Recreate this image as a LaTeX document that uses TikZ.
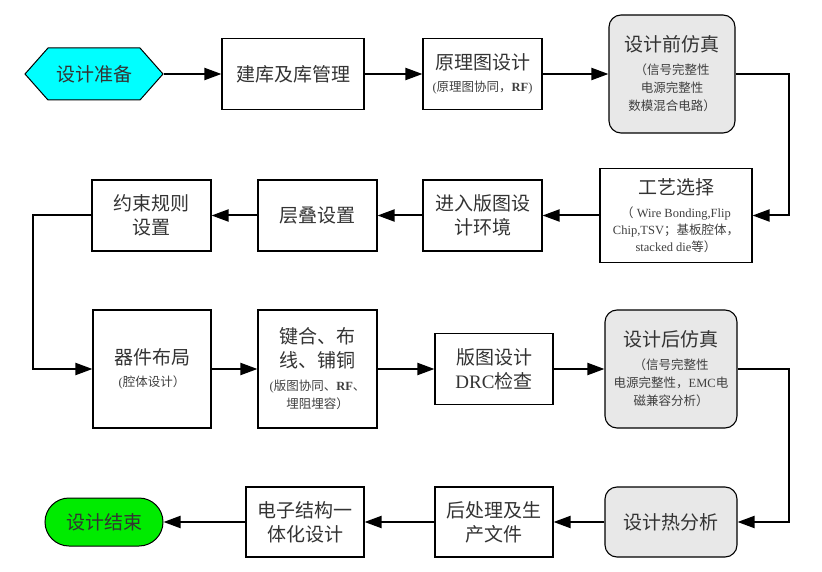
\documentclass[tikz,border=0pt]{standalone}
\usepackage{fontspec}
\setmainfont{Noto Sans CJK SC}
\newfontfamily\lat{Liberation Serif}
\usetikzlibrary{arrows.meta,shapes.misc}
\definecolor{cyanfill}{RGB}{0,255,255}
\definecolor{greenfill}{RGB}{0,235,0}
\definecolor{grayfill}{RGB}{232,232,232}
\newcommand\mainsz{\fontsize{19}{24}\selectfont}
\newcommand\subsz{\fontsize{12.5}{17}\selectfont\color{black!75}}
\begin{document}
\begin{tikzpicture}[x=1pt,y=-1pt,
  box/.style={draw, line width=1.1pt, fill=white, inner sep=0pt, align=center,
              font=\mainsz, text=black!80},
  rbox/.style={box, rounded corners=12pt, fill=grayfill},
  conn/.style={line width=2pt, -{Triangle[length=17pt,width=12pt]}},
  hexshape/.style={draw, line width=1pt, fill=cyanfill}
]
\useasboundingbox (0,0) rectangle (822,572);

% row 1
\path[hexshape] (25,74) -- (48,48) -- (140,48) -- (163,74) -- (140,100) -- (48,100) -- cycle;
\node[box, draw=none, fill=none, minimum width=138pt, minimum height=52pt] (start) at (94,74) {设计准备};
\node[box, minimum width=142pt, minimum height=71pt] (lib) at (293,74) {建库及库管理};
\node[box, minimum width=119pt, minimum height=71pt] (sch) at (482.5,74)
  {原理图设计\\[-2pt]\subsz{\lat(}原理图协同，{\lat\bfseries RF}{\lat)}};
\node[rbox, minimum width=126pt, minimum height=118pt] (presim) at (672,74)
  {设计前仿真\\[-1pt]\subsz （信号完整性\\[-6pt]\subsz 电源完整性\\[-6pt]\subsz 数模混合电路）};

% row 2
\node[box, minimum width=152pt, minimum height=94pt] (proc) at (676,215.5)
  {工艺选择\\[-1pt]\subsz （{\lat\ Wire Bonding,Flip}\\[-7pt]\subsz{\lat Chip,TSV}；基板腔体，\\[-7pt]\subsz{\lat stacked die}等）};
\node[box, minimum width=119pt, minimum height=71pt] (env) at (482.5,215.5) {进入版图设\\计环境};
\node[box, minimum width=119pt, minimum height=71pt] (stack) at (317.5,215.5) {层叠设置};
\node[box, minimum width=119pt, minimum height=71pt] (rule) at (151.5,215.5) {约束规则\\设置};

% row 3
\node[box, minimum width=118pt, minimum height=118pt] (place) at (152,369)
  {器件布局\\[-2pt]\subsz{\lat(}腔体设计）};
\node[box, minimum width=119pt, minimum height=118pt] (bond) at (317.5,369)
  {键合、布\\线、铺铜\\[-1pt]\subsz{\lat(}版图协同、{\lat\bfseries RF}、\\[-6pt]\subsz 埋阻埋容）};
\node[box, minimum width=118pt, minimum height=71pt] (drc) at (494,369) {版图设计\\{\lat DRC}检查};
\node[rbox, minimum width=132pt, minimum height=118pt] (postsim) at (671,369)
  {设计后仿真\\[-1pt]\subsz （信号完整性\\[-6pt]\subsz 电源完整性，{\lat EMC}电\\[-6pt]\subsz 磁兼容分析）};

% row 4
\node[rbox, minimum width=132pt, minimum height=70pt] (thermal) at (671,522) {设计热分析};
\node[box, minimum width=118pt, minimum height=70pt] (post) at (494,522) {后处理及生\\产文件};
\node[box, minimum width=118pt, minimum height=70pt] (integ) at (305,522) {电子结构一\\体化设计};
\node[box, rounded rectangle, fill=greenfill, line width=1pt, minimum width=118pt, minimum height=48pt] (fin) at (104,522) {设计结束};

% bend points
\coordinate (r1) at (789,74);
\coordinate (l2) at (33,215.5);
\coordinate (r3) at (789,369);

% connectors
\draw[conn] (start.east) -- (lib.west);
\draw[conn] (lib.east) -- (sch.west);
\draw[conn] (sch.east) -- (presim.west);
\draw[conn] (presim.east) -- (r1) |- (proc.east);
\draw[conn] (proc.west) -- (env.east);
\draw[conn] (env.west) -- (stack.east);
\draw[conn] (stack.west) -- (rule.east);
\draw[conn] (rule.west) -- (l2) |- (place.west);
\draw[conn] (place.east) -- (bond.west);
\draw[conn] (bond.east) -- (drc.west);
\draw[conn] (drc.east) -- (postsim.west);
\draw[conn] (postsim.east) -- (r3) |- (thermal.east);
\draw[conn] (thermal.west) -- (post.east);
\draw[conn] (post.west) -- (integ.east);
\draw[conn] (integ.west) -- (fin.east);
\end{tikzpicture}
\end{document}
